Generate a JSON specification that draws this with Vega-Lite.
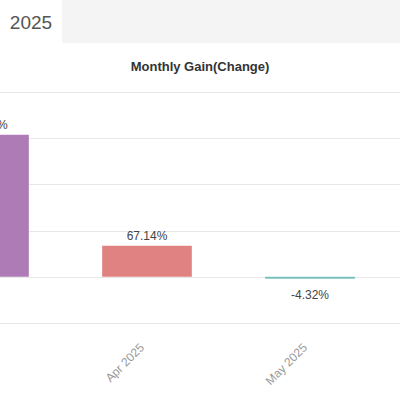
{
  "$schema": "https://vega.github.io/schema/vega-lite/v6.json",
  "padding": 0,
  "bounds": "flush",
  "spacing": 92,
  "config": {"view": {"stroke": null}, "font": "Liberation Sans"},
  "vconcat": [
    {
      "spacing": 0,
      "hconcat": [
        {
          "width": 62, "height": 43,
          "view": {"fill": "white", "stroke": null},
          "data": {"values": [{"tab": "2025"}]},
          "mark": {"type": "text", "fontSize": 19, "color": "#555", "dy": 1},
          "encoding": {"text": {"field": "tab"}}
        },
        {
          "width": 338, "height": 43,
          "view": {"fill": "#f4f4f4", "stroke": null},
          "data": {"values": []},
          "mark": "text",
          "encoding": {}
        }
      ]
    },
    {
      "width": 400, "height": 231,
      "title": {"text": "Monthly Gain(Change)", "fontSize": 13, "fontWeight": "bold", "color": "#333", "baseline": "alphabetic", "offset": 8},
      "data": {"values": [
        {"month": "Mar 2025", "gain": 307.43, "label": "307.43%"},
        {"month": "Apr 2025", "gain": 67.14, "label": "67.14%"},
        {"month": "May 2025", "gain": -4.32, "label": "-4.32%"}
      ]},
      "encoding": {
        "x": {"field": "month", "type": "ordinal", "sort": null,
          "scale": {"domain": ["Mar 2025", "Apr 2025", "May 2025", "Jun 2025"], "range": [-97.5, 554.5], "paddingInner": 0.45, "paddingOuter": 0.225},
          "axis": {"values": ["Apr 2025", "May 2025"], "labelAngle": -45, "labelBaseline": "bottom", "labelColor": "#999", "labelFontSize": 12, "labelPadding": 27, "ticks": false, "domain": false, "title": null, "grid": false}},
        "y": {"field": "gain", "type": "quantitative",
          "scale": {"domain": [-100, 400], "nice": false},
          "axis": {"values": [-100, 0, 100, 200, 300, 400], "labels": false, "ticks": false, "domain": false, "title": null, "gridColor": "#e8e8e8"}}
      },
      "layer": [
        {"mark": {"type": "bar", "clip": true},
         "encoding": {"color": {"field": "month", "type": "nominal", "scale": {"domain": ["Mar 2025", "Apr 2025", "May 2025"], "range": ["#ae7bb6", "#e08282", "#79bfbc"]}, "legend": null}}},
        {"transform": [{"filter": "datum.gain >= 0"}],
         "mark": {"type": "text", "clip": true, "baseline": "alphabetic", "dy": -6, "fontSize": 12, "color": "#444"},
         "encoding": {"text": {"field": "label"}}},
        {"transform": [{"filter": "datum.gain < 0"}],
         "mark": {"type": "text", "clip": true, "baseline": "top", "dy": 11, "fontSize": 12, "color": "#444"},
         "encoding": {"text": {"field": "label"}}}
      ]
    }
  ]
}
